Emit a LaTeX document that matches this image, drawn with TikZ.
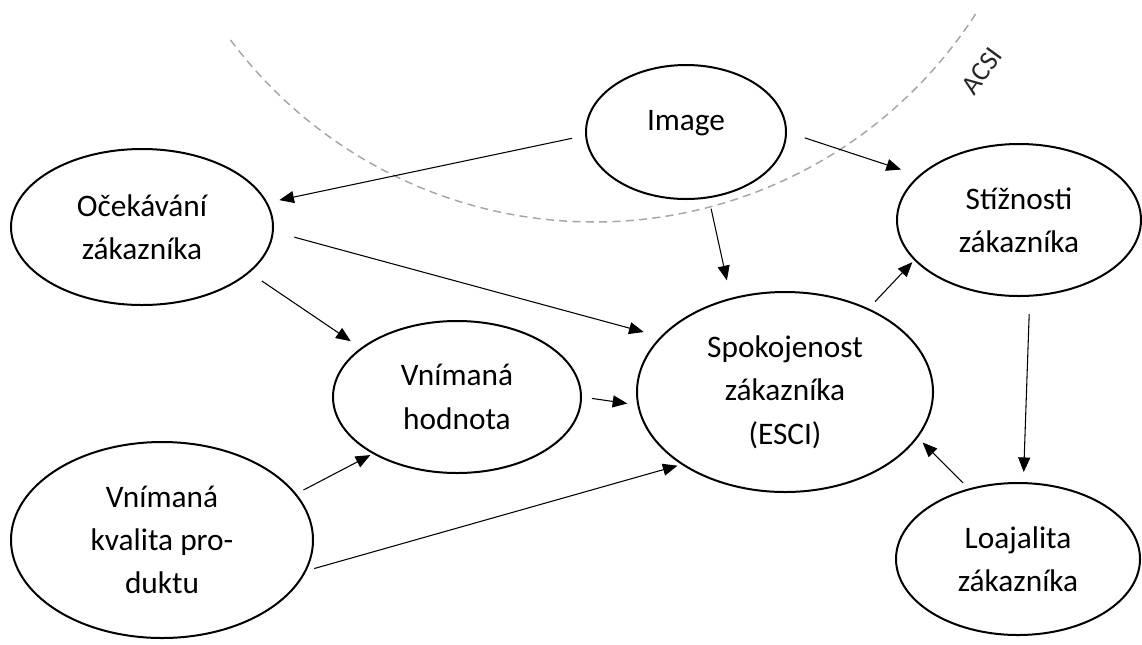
\documentclass[tikz,border=0pt]{standalone}
\usepackage{fontspec}
\setmainfont{Carlito}
\usepackage{tikz}
\usetikzlibrary{arrows.meta,shapes.geometric}
\tikzset{
  factor/.style={draw, ellipse, line width=1.5pt, inner sep=0pt, align=center,
    font=\fontsize{23.5}{32.5}\selectfont},
  arr/.style={line width=0.8pt, -{Triangle[length=11pt,width=9pt]}},
  acsi/.style={draw=black!35, line width=1.1pt, dash pattern=on 6pt off 4pt}
}

\begin{document}
\begin{tikzpicture}[x=0.75pt, y=-0.75pt]
    \useasboundingbox (0,0) rectangle (1142,644);

    % ACSI boundary
    \draw[acsi] plot[domain=216.8:327.8, samples=80]
      ({594+454*cos(\x)}, {-232-454*sin(\x)});
    \node[rotate=54, text=black!85, font=\fontsize{20.5}{22}\selectfont] (acsilbl) at (982,71) {ACSI};

    % factors
    \node[factor, minimum width=150pt, minimum height=100.5pt, text depth=17pt] (img) at (686,132) {Image};
    \node[factor, minimum width=196.5pt, minimum height=117pt] (ocek) at (142,227) {Očekávání\\zákazníka};
    \node[factor, minimum width=186pt, minimum height=114pt] (hodnota) at (457,397) {Vnímaná\\hodnota};
    \node[factor, minimum width=226.5pt, minimum height=147pt] (kvalita) at (162,540) {Vnímaná\\kvalita pro-\\duktu};
    \node[factor, minimum width=222pt, minimum height=150pt] (spok) at (785,392) {Spokojenost\\zákazníka\\(ESCI)};
    \node[factor, minimum width=183pt, minimum height=114pt] (stiz) at (1019,220) {Stížnosti\\zákazníka};
    \node[factor, minimum width=183pt, minimum height=114pt] (loaj) at (1018,559) {Loajalita\\zákazníka};

    % relations
    \draw[arr, shorten <=10pt, shorten >=9pt] (img.182.5) -- (ocek.11);
    \draw[arr, shorten <=14pt, shorten >=14pt] (img.0) -- (stiz.156);
    \draw[arr, shorten <=8pt, shorten >=13.5pt] (img.289) -- (spok.120);
    \draw[arr, shorten <=16pt, shorten >=13pt] (ocek.-2) -- (spok.156);
    \draw[arr, shorten <=11pt, shorten >=9pt] (ocek.-23) -- (hodnota.153);
    \draw[arr, shorten <=7.5pt, shorten >=7.5pt] (hodnota.0) -- (spok.185.5);
    \draw[arr, shorten <=6pt, shorten >=2pt] (kvalita.19) -- (hodnota.214);
    \draw[arr, shorten <=6pt, shorten >=3pt] (kvalita.-12) -- (spok.215.5);
    \draw[arr, shorten <=7pt, shorten >=2pt] (spok.45) -- (stiz.201.6);
    \draw[arr, shorten <=13pt, shorten >=7.5pt] (stiz.278.6) -- (loaj.86.7);
    \draw[arr, shorten <=6pt, shorten >=5pt] (loaj.125) -- (spok.-19);
\end{tikzpicture}
\end{document}
